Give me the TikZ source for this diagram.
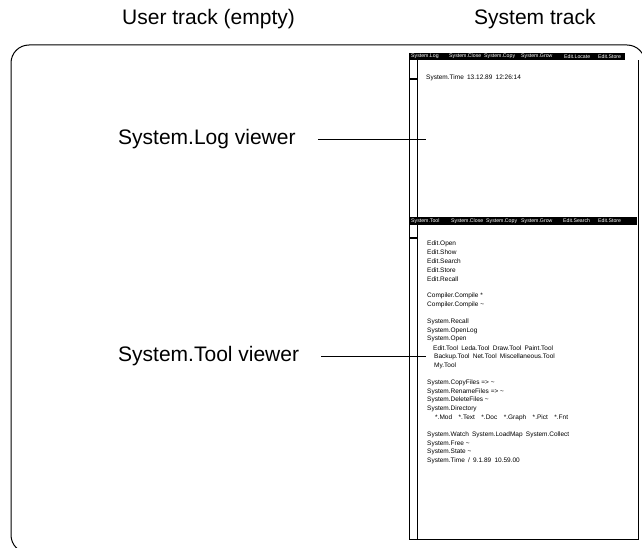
\documentclass[tikz,border=0pt]{standalone}
\usepackage{fontspec}
\setmainfont{Liberation Sans}
\usepackage{tikz}
\usetikzlibrary{calc}
\tikzstyle{caption}=[font=\fontsize{21}{24}\selectfont, anchor=base west, inner sep=0pt]
\tikzstyle{menubar}=[fill=black]
\tikzstyle{menuitem}=[font=\fontsize{5.2}{6}\selectfont, text=white, anchor=west, inner sep=0pt]
\tikzstyle{cmd}=[font=\fontsize{6.5}{7}\selectfont, anchor=west, inner sep=0pt]
\tikzstyle{pointer} = [draw, line width=0.9pt]
\tikzstyle{border} = [draw, line width=1pt]
\tikzstyle{scrollmark} = [draw, line width=2pt]
\newcommand{\wsp}{\hspace{0.5em}}
\newcommand{\wwsp}{\hspace{1em}}

\begin{document}
\begin{tikzpicture}[x=1pt, y=-1pt]

\useasboundingbox (0,0) rectangle (642,548);

 % outer frame, cut by the page
 \begin{scope}
 \clip (0,0) rectangle (642,548);
 \draw[line width=1pt, rounded corners=18pt] (700,553) -- (11,553) -- (11,45) -- (645,45) -- (645,600);
 \end{scope}

 \node[caption] (usertrack) at (122,25) {User track (empty)};
 \node[caption] (systrack) at (474,25) {System track};

 % the screen of the system track
 \draw[border] (409,53) -- (409,539) -- (638,539) -- (638,60);
 \draw[border] (417,60) -- (417,539);
 \path[menubar] (409,53) rectangle (625,60);
 \path[menubar] (409,217) rectangle (637,225);
 \draw[scrollmark] (409,79) -- (417,79);
 \draw[scrollmark] (409,238) -- (417,238);

    \foreach \x/ \name [count=\i] in {{411/System.Log}, {449/System.Close}, {484/System.Copy}, {521/System.Grow}, {564/Edit.Locate}, {598/Edit.Store}}
        \node[menuitem] (logmenu\i) at (\x,56.5) {\name};

    \foreach \x/ \name [count=\i] in {{411/System.Tool}, {451/System.Close}, {486/System.Copy}, {521/System.Grow}, {563/Edit.Search}, {598/Edit.Store}}
        \node[menuitem] (toolmenu\i) at (\x,221) {\name};

 \node[cmd] (logtime) at (426,78) {System.Time\wsp 13.12.89\wsp 12:26:14};

    % lines of the tool viewer
    \foreach \x/ \n/ \txt in {427/0/Edit.Open, 427/1/Edit.Show, 427/2/Edit.Search, 427/3/Edit.Store, 427/4/Edit.Recall,
        427/6/Compiler.Compile *, 427/7/Compiler.Compile \textasciitilde,
        427/9/System.Recall, 427/10/System.OpenLog, 427/11/System.Open,
        433/12/{Edit.Tool\wsp Leda.Tool\wsp Draw.Tool\wsp Paint.Tool},
        434/13/{Backup.Tool\wsp Net.Tool\wsp Miscellaneous.Tool},
        434/14/My.Tool,
        427/16/System.CopyFiles => \textasciitilde, 427/17/System.RenameFiles => \textasciitilde,
        427/18/System.DeleteFiles \textasciitilde, 427/19/System.Directory,
        435/20/{*.Mod\wwsp *.Text\wwsp *.Doc\wwsp *.Graph\wwsp *.Pict\wwsp *.Fnt},
        427/22/{System.Watch\wsp System.LoadMap\wsp System.Collect},
        427/23/System.Free \textasciitilde, 427/24/System.State \textasciitilde,
        427/25/{System.Time\wsp \slash\wsp 9.1.89\wsp 10.59.00}}
        \node[cmd] (tool\n) at (\x,{244+8.67*\n}) {\txt};

 \node[caption] (loglabel) at (118,145) {System.Log viewer};
 \node[caption] (toollabel) at (118,361.5) {System.Tool viewer};
 \coordinate (logtip) at (426,139);
 \coordinate (tooltip) at (426,356);

 \draw[pointer, shorten <=22pt] (loglabel.east |- logtip) -- (logtip);
 \draw[pointer, shorten <=22pt] (toollabel.east |- tooltip) -- (tooltip);

\end{tikzpicture}
\end{document}
